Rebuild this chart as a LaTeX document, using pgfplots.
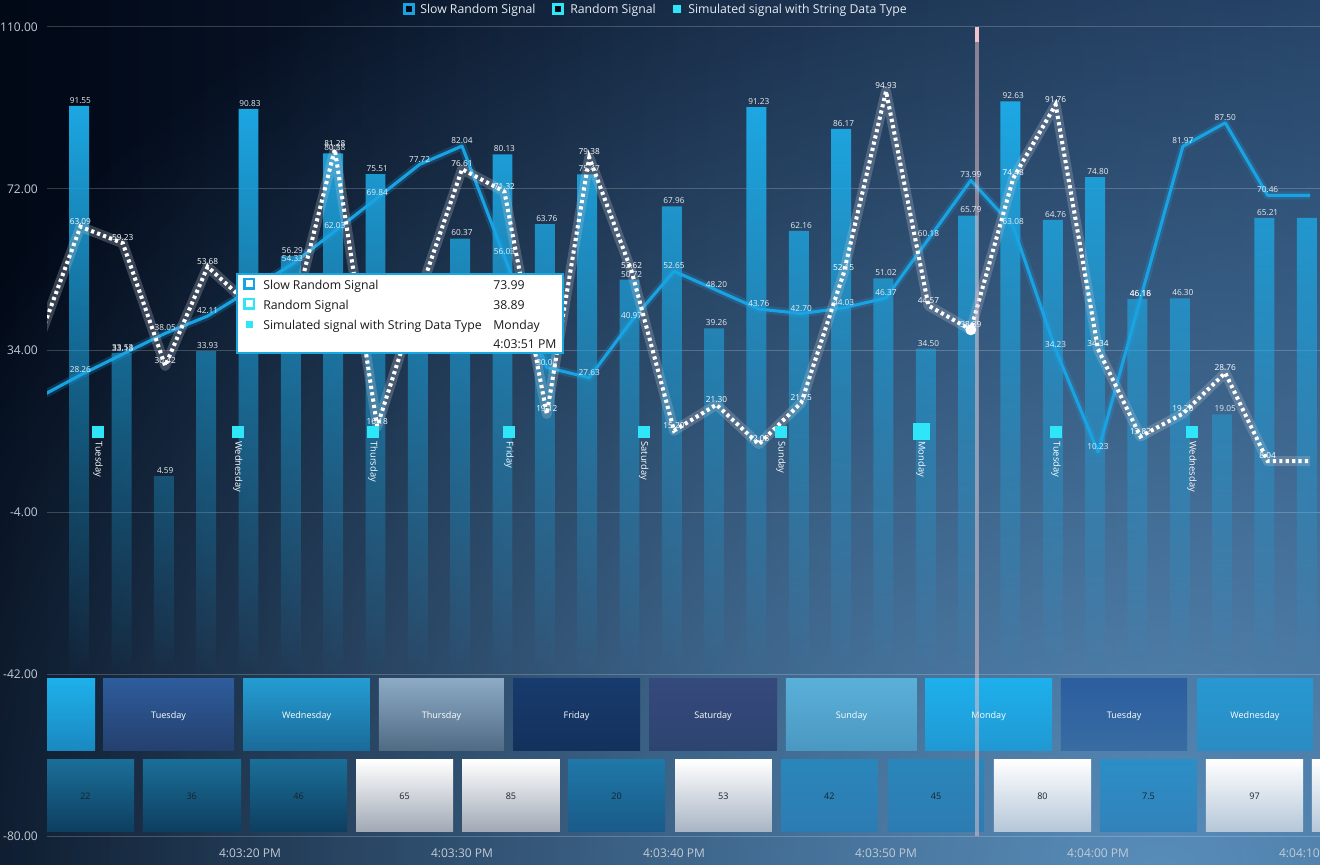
\documentclass[border=0pt]{standalone}
\usepackage{pgfplots}
\pgfplotsset{compat=1.18}
\usepackage{pgfplotstable}
\usetikzlibrary{fadings}
\usepackage{fontspec}
\setmainfont{Open Sans}

\definecolor{barblue}{HTML}{1DA9E5}
\definecolor{slowblue}{HTML}{1AA3E3}
\definecolor{sqcyan}{HTML}{2EE6F7}
\definecolor{bgA}{HTML}{010816}
\definecolor{bgB}{HTML}{1A3254}
\definecolor{glow}{HTML}{6098C6}
\definecolor{ticktext}{HTML}{C2CAD4}
\definecolor{labtext}{HTML}{E8EEF4}
\definecolor{legtext}{HTML}{E6ECF2}
\definecolor{tipborder}{HTML}{1AA8E0}
\definecolor{cursor}{HTML}{F2C4C8}
\definecolor{halo}{HTML}{B8BECC}
% row 1 colours
\definecolor{monA}{HTML}{1EB0EA}\definecolor{monB}{HTML}{1A88C0}
\definecolor{tueA}{HTML}{2E5C9C}\definecolor{tueB}{HTML}{24406E}
\definecolor{wedA}{HTML}{249CD2}\definecolor{wedB}{HTML}{1A6A98}
\definecolor{thuA}{HTML}{8CAAC4}\definecolor{thuB}{HTML}{506A84}
\definecolor{friA}{HTML}{173B6E}\definecolor{friB}{HTML}{14315C}
\definecolor{satA}{HTML}{35497C}\definecolor{satB}{HTML}{2D4470}
\definecolor{sunA}{HTML}{5AB0D8}\definecolor{sunB}{HTML}{4A98C2}
\definecolor{mon2A}{HTML}{1EB0EC}\definecolor{mon2B}{HTML}{2098D2}
\definecolor{tue2A}{HTML}{2C5EA0}\definecolor{tue2B}{HTML}{386CA2}
\definecolor{wed2A}{HTML}{2898D2}\definecolor{wed2B}{HTML}{2A8CC2}
% row 2 colours
\definecolor{dkA}{HTML}{1A6E98}\definecolor{dkB}{HTML}{0E3E60}
\definecolor{whA}{HTML}{FFFFFF}\definecolor{whB}{HTML}{A0A8B4}
\definecolor{wh2B}{HTML}{A8B4C4}\definecolor{wh3B}{HTML}{B4C6D8}
\definecolor{mdA}{HTML}{1E78A8}\definecolor{mdB}{HTML}{1A5A88}
\definecolor{ltA}{HTML}{2A86BA}\definecolor{ltB}{HTML}{2C7CB2}
\definecolor{lt2A}{HTML}{2C8EC6}\definecolor{lt2B}{HTML}{3282BA}
\definecolor{numtext}{HTML}{18222C}

\tikzfading[name=barfade, top color=transparent!0, middle color=transparent!68, bottom color=transparent!100]
\tikzfading[name=glowfade, inner color=transparent!0, outer color=transparent!100]

\pgfplotstableread{
t v
-10 39.80
-8 91.55
-6 33.53
-4 4.59
-2 33.93
0 90.83
2 56.29
4 80.38
6 75.51
8 42.00
10 60.37
12 80.13
14 63.76
16 75.47
18 50.72
20 67.96
22 39.26
24 91.23
26 62.16
28 86.17
30 51.02
32 34.50
34 65.79
36 92.63
38 64.76
40 74.80
42 46.18
44 46.30
46 19.05
48 65.21
50 65.21
}\bars

\pgfplotstableread{
t slow rnd
-10 22.90 36.00
-8 28.26 63.09
-6 33.18 59.23
-4 38.05 30.42
-2 42.11 53.68
0 48.20 44.60
2 54.33 41.50
4 62.03 81.28
6 69.84 16.18
8 77.72 47.40
10 82.04 76.61
12 56.03 71.32
14 30.04 19.12
16 27.63 79.38
18 40.97 52.62
20 52.65 15.20
22 48.20 21.30
24 43.76 12.03
26 42.70 21.75
28 44.03 52.15
30 46.37 94.93
32 60.18 44.57
34 73.99 38.89
36 63.08 74.48
38 34.23 91.76
40 10.23 34.34
42 46.16 13.82
44 81.97 19.20
46 87.50 28.76
48 70.46 8.04
50 70.46 8.04
}\lines

\pgfplotstableread{
t s lab
-7.17 15 Tuesday
-0.57 15 Wednesday
5.80 15 Thursday
12.22 15 Friday
18.58 15 Saturday
25.05 15 Sunday
31.65 15 Monday
38.02 15 Tuesday
44.43 15 Wednesday
}\strsig

\pgfplotsset{
  base/.style={
    at={(0pt,0pt)}, anchor=south west,
    width=954.75pt, height=606.75pt, scale only axis,
    xmin=-9.575, xmax=50.47,
  },
  ptlab/.style={
    draw=none, restrict x to domain=-9:49,
    nodes near coords={\pgfmathprintnumber[fixed,fixed zerofill,precision=2,assume math mode=true]{\pgfplotspointmeta}},
    point meta=y,
    every node near coord/.append style={font=\fontsize{6.2}{7}\selectfont, text=#1, anchor=south, inner sep=0.5pt, yshift=1pt},
  },
}

% band box: x1 x2 ytop ybottom topcolor bottomcolor
\newcommand\bx[6]{\addplot[draw=none, top color=#5, bottom color=#6] coordinates {(#1,#3) (#2,#3) (#2,#4) (#1,#4)} -- cycle;}

\begin{document}
\begin{tikzpicture}
\useasboundingbox (-35.25pt,-21pt) rectangle (954.75pt,627pt);
\fill[left color=bgA, right color=bgB] (-35.25pt,-21pt) rectangle (954.75pt,627pt);
\begin{scope}
  \clip (-35.25pt,-21pt) rectangle (954.75pt,627pt);
  \fill[glow, opacity=0.9, path fading=glowfade] (835pt,-30pt) ellipse (1040pt and 820pt);
\end{scope}

% axis A: grid, ticks, bars (y shifted by +42 so that bars rise from -42)
\begin{axis}[base,
  ymin=-38, ymax=152,
  axis line style={draw=none},
  major tick length=0pt,
  ytick={-38,0,38,76,114,152},
  yticklabels={-80.00,-42.00,-4.00,34.00,72.00,110.00},
  xtick={0,10,20,30,40,50},
  xticklabels={4:03:20 PM,4:03:30 PM,4:03:40 PM,4:03:50 PM,4:04:00 PM,4:04:10 PM},
  ymajorgrids,
  grid style={white, opacity=0.2, line width=0.75pt},
  tick label style={font=\fontsize{9}{10}\selectfont, text=ticktext},
  yticklabel style={anchor=east, inner sep=0pt, xshift=-6.75pt},
  xticklabel style={anchor=base, inner sep=0pt, yshift=-16pt},
]
\addplot[ybar, bar width=15pt, draw=none, fill=barblue, path fading=barfade] table[x=t, y expr=\thisrow{v}+42] \bars;
\end{axis}

% axis B: bands, lines, markers, labels
\begin{axis}[base, ymin=-80, ymax=110, axis lines=none]
% row 1: days
\bx{-13.33}{-7.31}{-43.1}{-60}{monA}{monB}
\bx{-6.93}{-0.75}{-43.1}{-60}{tueA}{tueB}
\bx{-0.33}{5.66}{-43.1}{-60}{wedA}{wedB}
\bx{6.08}{11.98}{-43.1}{-60}{thuA}{thuB}
\bx{12.41}{18.40}{-43.1}{-60}{friA}{friB}
\bx{18.82}{24.86}{-43.1}{-60}{satA}{satB}
\bx{25.28}{31.46}{-43.1}{-60}{sunA}{sunB}
\bx{31.84}{37.83}{-43.1}{-60}{mon2A}{mon2B}
\bx{38.25}{44.20}{-43.1}{-60}{tue2A}{tue2B}
\bx{44.67}{50.14}{-43.1}{-60}{wed2A}{wed2B}
% row 2: numbers
\bx{-10.05}{-5.47}{-62.1}{-79}{dkA}{dkB}
\bx{-5.05}{-0.42}{-62.1}{-79}{dkA}{dkB}
\bx{0.00}{4.58}{-62.1}{-79}{dkA}{dkB}
\bx{5.00}{9.58}{-62.1}{-79}{whA}{whB}
\bx{10.00}{14.62}{-62.1}{-79}{whA}{whB}
\bx{15.00}{19.58}{-62.1}{-79}{mdA}{mdB}
\bx{20.05}{24.62}{-62.1}{-79}{whA}{wh2B}
\bx{25.05}{29.62}{-62.1}{-79}{ltA}{ltB}
\bx{30.09}{34.62}{-62.1}{-79}{ltA}{ltB}
\bx{35.09}{39.67}{-62.1}{-79}{whA}{wh3B}
\bx{40.09}{44.67}{-62.1}{-79}{lt2A}{lt2B}
\bx{45.09}{49.67}{-62.1}{-79}{whA}{wh3B}
\bx{50.09}{54.67}{-62.1}{-79}{whA}{wh3B}

\begin{scope}[every node/.style={font=\fontsize{6.8}{8}\selectfont, text=white}]
\node at (axis cs:-3.84,-51.8) {Tuesday};
\node at (axis cs:2.67,-51.8) {Wednesday};
\node at (axis cs:9.03,-51.8) {Thursday};
\node at (axis cs:15.40,-51.8) {Friday};
\node at (axis cs:21.84,-51.8) {Saturday};
\node at (axis cs:28.37,-51.8) {Sunday};
\node at (axis cs:34.84,-51.8) {Monday};
\node at (axis cs:41.23,-51.8) {Tuesday};
\node at (axis cs:47.40,-51.8) {Wednesday};
\end{scope}
\begin{scope}[every node/.style={font=\fontsize{6.8}{8}\selectfont, text=numtext}]
\node at (axis cs:-7.76,-70.6) {22};
\node at (axis cs:-2.75,-70.6) {36};
\node at (axis cs:2.29,-70.6) {46};
\node at (axis cs:7.29,-70.6) {65};
\node at (axis cs:12.31,-70.6) {85};
\node at (axis cs:17.29,-70.6) {20};
\node at (axis cs:22.33,-70.6) {53};
\node at (axis cs:27.33,-70.6) {42};
\node at (axis cs:32.36,-70.6) {45};
\node at (axis cs:37.38,-70.6) {80};
\node at (axis cs:42.38,-70.6) {7.5};
\node at (axis cs:47.38,-70.6) {97};
\end{scope}

% slow random signal
\addplot[slowblue, opacity=0.22, line width=6pt, line join=round] table[x=t,y=slow] \lines;
\addplot[slowblue, line width=2.3pt, line join=round] table[x=t,y=slow] \lines;
% random signal
\addplot[halo, opacity=0.28, line width=7.5pt, line join=round] table[x=t,y=rnd] \lines;
\addplot[white, line width=3pt, dash pattern=on 2.4pt off 2.4pt] table[x=t,y=rnd] \lines;

% point labels
\addplot[ptlab=labtext] table[x=t,y=v] \bars;
\addplot[ptlab=labtext] table[x=t,y=slow] \lines;
\addplot[ptlab=white] table[x=t,y=rnd] \lines;

% string data signal
\addplot[only marks, mark=square*, mark size=4.1pt, sqcyan,
  nodes near coords, point meta=explicit symbolic,
  every node near coord/.append style={font=\fontsize{7}{8}\selectfont, text=white, rotate=-90, anchor=west, inner xsep=7.5pt, inner ysep=0pt, outer sep=0pt}]
  table[x=t,y=s,meta=lab] \strsig;
\addplot[only marks, mark=square*, mark size=6pt, sqcyan] coordinates {(31.65,15)};

% cursor
\addplot[cursor, opacity=0.5, line width=3.6pt] coordinates {(34.29,-80) (34.29,110)};
\addplot[cursor, line width=3.6pt] coordinates {(34.29,106.5) (34.29,110)};
\addplot[only marks, mark=*, mark size=3.9pt, white] coordinates {(34,38.89)};
\end{axis}

% legend and tooltip (pixel frame)
\begin{scope}[x=0.75pt, y=-0.75pt, shift={(-35.25pt,627pt)}]
  \draw[slowblue, line width=1.7pt, fill=bgA] (404.5,4.5) rectangle (413.5,13.5);
  \node[anchor=base west, inner sep=0pt, font=\fontsize{9.2}{11}\selectfont, text=legtext] at (420,13.5) {Slow Random Signal};
  \draw[sqcyan, line width=1.7pt, fill=bgA] (553.5,4.5) rectangle (562.5,13.5);
  \node[anchor=base west, inner sep=0pt, font=\fontsize{9.2}{11}\selectfont, text=legtext] at (570,13.5) {Random Signal};
  \fill[sqcyan] (673,5) rectangle (681,13);
  \node[anchor=base west, inner sep=0pt, font=\fontsize{9.2}{11}\selectfont, text=legtext] at (688,13.5) {Simulated signal with String Data Type};

  \draw[tipborder, line width=1.3pt, fill=white] (237,274) rectangle (563,353);
  \draw[slowblue, line width=1.9pt, fill=white] (244.5,279) rectangle (254,288.5);
  \draw[sqcyan, line width=1.9pt, fill=white] (244.5,299) rectangle (254,308.5);
  \fill[sqcyan] (245.5,321) rectangle (252.5,328);
  \begin{scope}[every node/.style={anchor=base west, inner sep=0pt, font=\fontsize{9.2}{11}\selectfont, text=black!90}]
    \node at (263,289.5) {Slow Random Signal};
    \node at (263,309.5) {Random Signal};
    \node at (263,329.5) {Simulated signal with String Data Type};
    \node at (493,289.5) {73.99};
    \node at (493,309.5) {38.89};
    \node at (493,329.5) {Monday};
    \node at (493,348.5) {4:03:51 PM};
  \end{scope}
\end{scope}
\end{tikzpicture}
\end{document}
